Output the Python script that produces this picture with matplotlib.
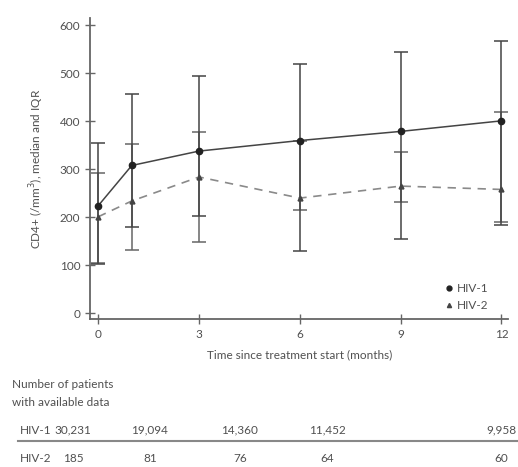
import matplotlib.pyplot as plt

# CD4+ counts (median and IQR) by month since treatment start
months = [0, 1, 3, 6, 9, 12]
hiv1_median = [224, 308, 338, 360, 379, 401]
hiv1_q1 = [102, 180, 203, 130, 155, 183]
hiv1_q3 = [355, 457, 495, 520, 544, 567]
hiv2_median = [201, 234, 284, 240, 265, 258]
hiv2_q1 = [105, 132, 149, 215, 232, 190]
hiv2_q3 = [292, 352, 377, 360, 336, 420]

# number of patients table
table_groups = ["HIV-1", "HIV-2"]
hiv1_counts = ["30,231", "19,094", "14,360", "11,452", "9,958"]
hiv2_counts = ["185", "81", "76", "64", "60"]

TXT = "#505050"
plt.rcParams["font.family"] = ["Lato", "DejaVu Sans"]

fig = plt.figure(figsize=(5.18, 4.67), dpi=100)
ax = fig.add_axes([0.174, 0.317, 0.807, 0.644])

yerr1 = [[m - lo for m, lo in zip(hiv1_median, hiv1_q1)],
         [hi - m for m, hi in zip(hiv1_median, hiv1_q3)]]
yerr2 = [[m - lo for m, lo in zip(hiv2_median, hiv2_q1)],
         [hi - m for m, hi in zip(hiv2_median, hiv2_q3)]]

ax.errorbar(months, hiv2_median, yerr=yerr2, color="#8a8a8a", ls=(0, (5, 4)),
            lw=1.2, marker="^", ms=3.5, mfc="#444444", mec="#444444",
            ecolor="#666666", elinewidth=1.1, capsize=5, capthick=1.1,
            label="HIV-2", zorder=2)
ax.errorbar(months, hiv1_median, yerr=yerr1, color="#444444", ls="-",
            lw=1.1, marker="o", ms=4.5, mfc="#222222", mec="#222222",
            ecolor="#444444", elinewidth=1.1, capsize=5, capthick=1.1,
            label="HIV-1", zorder=3)

ax.set_xlim(-0.24, 12.2)
ax.set_ylim(-12, 615)
ax.set_xticks([0, 3, 6, 9, 12])
ax.set_yticks(range(0, 601, 100))
for s in ["top", "right"]:
    ax.spines[s].set_visible(False)
for s in ["left", "bottom"]:
    ax.spines[s].set_color("#666666")
    ax.spines[s].set_linewidth(1.3)
ax.tick_params(direction="inout", length=7, width=1, colors="#666666",
               labelcolor=TXT, labelsize=8.5)

ax.set_xlabel("Time since treatment start (months)", color=TXT, fontsize=8.5,
              labelpad=7)
ax.set_ylabel("CD4+ (/mm$^3$), median and IQR", color=TXT, fontsize=8.5,
              labelpad=10)

leg_handles = [plt.Line2D([], [], ls="none", marker="o", ms=3.5, color="#222222"),
               plt.Line2D([], [], ls="none", marker="^", ms=3, color="#444444")]
ax.legend(leg_handles, ["HIV-1", "HIV-2"], loc="lower right", frameon=False,
          fontsize=8.5, labelcolor=TXT, handletextpad=0.2, handlelength=1,
          labelspacing=0.5, borderaxespad=0.0, bbox_to_anchor=(0.965, 0.01))

# patient table under the chart
W, H = 518, 467
fig.text(12 / W, 1 - 385 / H, "Number of patients", color=TXT, fontsize=8.5,
         va="center")
fig.text(12 / W, 1 - 402 / H, "with available data", color=TXT, fontsize=8.5,
         va="center")
col_x = [73, 150, 240, 327, 501]
row_y = [430, 458]
for gi, (grp, counts) in enumerate(zip(table_groups, [hiv1_counts, hiv2_counts])):
    y = 1 - row_y[gi] / H
    fig.text(20 / W, y, grp, color=TXT, fontsize=8.5, va="center")
    for cx, c in zip(col_x, counts):
        fig.text(cx / W, y, c, color=TXT, fontsize=8.5, va="center", ha="center")
fig.add_artist(plt.Line2D([18 / W, 1.0], [1 - 441 / H, 1 - 441 / H],
                          color="#888888", lw=1.5))

fig.savefig("out.png", dpi=100)
